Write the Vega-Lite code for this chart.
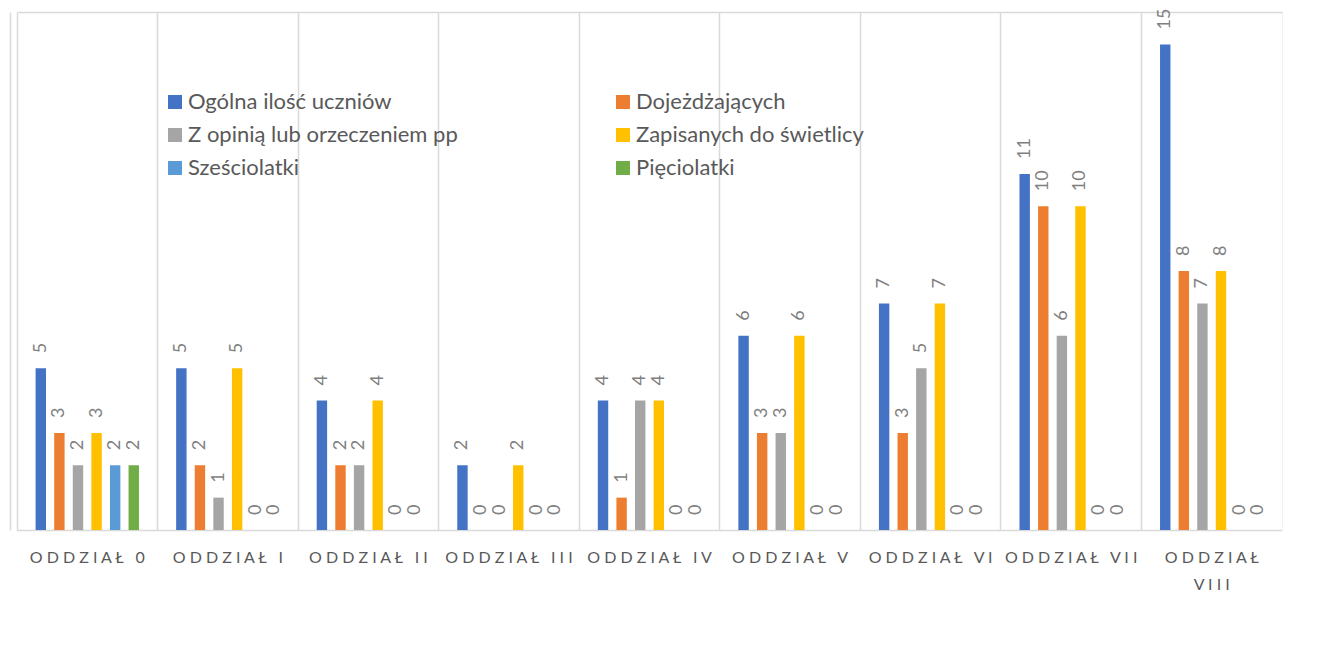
{
  "$schema": "https://vega.github.io/schema/vega-lite/v6.json",
  "width": 1265,
  "height": 518,
  "autosize": {"type": "none"},
  "padding": {"left": 17, "top": 12, "right": 43, "bottom": 127},
  "background": "white",
  "config": {"view": {"stroke": null}, "font": "Lato"},
  "data": {"values": [
    {"group": "ODDZIAŁ 0", "series": "Ogólna ilość uczniów", "value": 5},
    {"group": "ODDZIAŁ 0", "series": "Dojeżdżających", "value": 3},
    {"group": "ODDZIAŁ 0", "series": "Z opinią lub orzeczeniem pp", "value": 2},
    {"group": "ODDZIAŁ 0", "series": "Zapisanych do świetlicy", "value": 3},
    {"group": "ODDZIAŁ 0", "series": "Sześciolatki", "value": 2},
    {"group": "ODDZIAŁ 0", "series": "Pięciolatki", "value": 2},
    {"group": "ODDZIAŁ I", "series": "Ogólna ilość uczniów", "value": 5},
    {"group": "ODDZIAŁ I", "series": "Dojeżdżających", "value": 2},
    {"group": "ODDZIAŁ I", "series": "Z opinią lub orzeczeniem pp", "value": 1},
    {"group": "ODDZIAŁ I", "series": "Zapisanych do świetlicy", "value": 5},
    {"group": "ODDZIAŁ I", "series": "Sześciolatki", "value": 0},
    {"group": "ODDZIAŁ I", "series": "Pięciolatki", "value": 0},
    {"group": "ODDZIAŁ II", "series": "Ogólna ilość uczniów", "value": 4},
    {"group": "ODDZIAŁ II", "series": "Dojeżdżających", "value": 2},
    {"group": "ODDZIAŁ II", "series": "Z opinią lub orzeczeniem pp", "value": 2},
    {"group": "ODDZIAŁ II", "series": "Zapisanych do świetlicy", "value": 4},
    {"group": "ODDZIAŁ II", "series": "Sześciolatki", "value": 0},
    {"group": "ODDZIAŁ II", "series": "Pięciolatki", "value": 0},
    {"group": "ODDZIAŁ III", "series": "Ogólna ilość uczniów", "value": 2},
    {"group": "ODDZIAŁ III", "series": "Dojeżdżających", "value": 0},
    {"group": "ODDZIAŁ III", "series": "Z opinią lub orzeczeniem pp", "value": 0},
    {"group": "ODDZIAŁ III", "series": "Zapisanych do świetlicy", "value": 2},
    {"group": "ODDZIAŁ III", "series": "Sześciolatki", "value": 0},
    {"group": "ODDZIAŁ III", "series": "Pięciolatki", "value": 0},
    {"group": "ODDZIAŁ IV", "series": "Ogólna ilość uczniów", "value": 4},
    {"group": "ODDZIAŁ IV", "series": "Dojeżdżających", "value": 1},
    {"group": "ODDZIAŁ IV", "series": "Z opinią lub orzeczeniem pp", "value": 4},
    {"group": "ODDZIAŁ IV", "series": "Zapisanych do świetlicy", "value": 4},
    {"group": "ODDZIAŁ IV", "series": "Sześciolatki", "value": 0},
    {"group": "ODDZIAŁ IV", "series": "Pięciolatki", "value": 0},
    {"group": "ODDZIAŁ V", "series": "Ogólna ilość uczniów", "value": 6},
    {"group": "ODDZIAŁ V", "series": "Dojeżdżających", "value": 3},
    {"group": "ODDZIAŁ V", "series": "Z opinią lub orzeczeniem pp", "value": 3},
    {"group": "ODDZIAŁ V", "series": "Zapisanych do świetlicy", "value": 6},
    {"group": "ODDZIAŁ V", "series": "Sześciolatki", "value": 0},
    {"group": "ODDZIAŁ V", "series": "Pięciolatki", "value": 0},
    {"group": "ODDZIAŁ VI", "series": "Ogólna ilość uczniów", "value": 7},
    {"group": "ODDZIAŁ VI", "series": "Dojeżdżających", "value": 3},
    {"group": "ODDZIAŁ VI", "series": "Z opinią lub orzeczeniem pp", "value": 5},
    {"group": "ODDZIAŁ VI", "series": "Zapisanych do świetlicy", "value": 7},
    {"group": "ODDZIAŁ VI", "series": "Sześciolatki", "value": 0},
    {"group": "ODDZIAŁ VI", "series": "Pięciolatki", "value": 0},
    {"group": "ODDZIAŁ VII", "series": "Ogólna ilość uczniów", "value": 11},
    {"group": "ODDZIAŁ VII", "series": "Dojeżdżających", "value": 10},
    {"group": "ODDZIAŁ VII", "series": "Z opinią lub orzeczeniem pp", "value": 6},
    {"group": "ODDZIAŁ VII", "series": "Zapisanych do świetlicy", "value": 10},
    {"group": "ODDZIAŁ VII", "series": "Sześciolatki", "value": 0},
    {"group": "ODDZIAŁ VII", "series": "Pięciolatki", "value": 0},
    {"group": "ODDZIAŁ VIII", "series": "Ogólna ilość uczniów", "value": 15},
    {"group": "ODDZIAŁ VIII", "series": "Dojeżdżających", "value": 8},
    {"group": "ODDZIAŁ VIII", "series": "Z opinią lub orzeczeniem pp", "value": 7},
    {"group": "ODDZIAŁ VIII", "series": "Zapisanych do świetlicy", "value": 8},
    {"group": "ODDZIAŁ VIII", "series": "Sześciolatki", "value": 0},
    {"group": "ODDZIAŁ VIII", "series": "Pięciolatki", "value": 0}
  ]},
  "encoding": {
    "x": {
      "field": "group", "type": "nominal",
      "sort": ["ODDZIAŁ 0", "ODDZIAŁ I", "ODDZIAŁ II", "ODDZIAŁ III", "ODDZIAŁ IV", "ODDZIAŁ V", "ODDZIAŁ VI", "ODDZIAŁ VII", "ODDZIAŁ VIII"],
      "scale": {"paddingInner": 0, "paddingOuter": 0},
      "axis": {
        "title": null, "grid": false, "ticks": false,
        "domain": true, "domainColor": "#d9d9d9", "domainWidth": 1.5,
        "labelAngle": 0, "labelFontSize": 16, "labelColor": "#595959", "labelFont": "Lato",
        "labelPadding": 19, "labelOverlap": false, "labelBound": false, "labelLineHeight": 27,
        "labelExpr": "datum.value == 'ODDZIAŁ VIII' ? [replace('ODDZIAŁ', regexp('(.)(?=.)', 'g'), '$1\u00a0'), replace('VIII', regexp('(.)(?=.)', 'g'), '$1\u00a0')] : replace(datum.value, regexp('(.)(?=.)', 'g'), '$1\u00a0')"
      }
    },
    "xOffset": {
      "field": "series", "type": "nominal",
      "sort": ["Ogólna ilość uczniów", "Dojeżdżających", "Z opinią lub orzeczeniem pp", "Zapisanych do świetlicy", "Sześciolatki", "Pięciolatki"],
      "scale": {"paddingInner": 0.44, "paddingOuter": 1.12}
    },
    "y": {
      "field": "value", "type": "quantitative",
      "scale": {"domain": [0, 16], "nice": false},
      "axis": {"title": null, "labels": false, "ticks": false, "grid": false, "domain": true, "domainColor": "#d9d9d9", "domainWidth": 1.5, "offset": 7}
    }
  },
  "layer": [
    {
      "mark": {"type": "bar"},
      "encoding": {
        "color": {
          "field": "series", "type": "nominal",
          "scale": {
            "domain": ["Ogólna ilość uczniów", "Z opinią lub orzeczeniem pp", "Sześciolatki", "Dojeżdżających", "Zapisanych do świetlicy", "Pięciolatki"],
            "range": ["#4472C4", "#A5A5A5", "#5B9BD5", "#ED7D31", "#FFC000", "#70AD47"]
          },
          "legend": {
            "title": null, "orient": "none", "legendX": 147, "legendY": 79,
            "columns": 2, "columnPadding": 154, "rowPadding": 11,
            "symbolType": "square", "symbolSize": 196, "symbolStrokeWidth": 0, "symbolOpacity": 1,
            "labelFontSize": 22, "labelColor": "#595959", "labelFont": "Lato", "labelOffset": 2, "labelLimit": 500
          }
        }
      }
    },
    {
      "mark": {"type": "text", "angle": 270, "align": "left", "baseline": "middle", "dx": 15, "fontSize": 18, "color": "#7f7f7f", "font": "Lato"},
      "encoding": {
        "text": {"field": "value", "type": "quantitative"},
        "x": {
          "field": "group", "type": "nominal",
          "sort": ["ODDZIAŁ 0", "ODDZIAŁ I", "ODDZIAŁ II", "ODDZIAŁ III", "ODDZIAŁ IV", "ODDZIAŁ V", "ODDZIAŁ VI", "ODDZIAŁ VII", "ODDZIAŁ VIII"],
          "axis": {"orient": "top", "title": null, "labels": false, "ticks": false, "grid": true, "bandPosition": 0, "gridColor": "#d9d9d9", "gridWidth": 1.5, "domain": true, "domainColor": "#d9d9d9", "domainWidth": 1.5}
        },
        "y": {
          "field": "value", "type": "quantitative",
          "axis": {"orient": "right", "title": null, "labels": false, "ticks": false, "grid": false, "domain": true, "domainColor": "#f2f2f2", "domainWidth": 1}
        }
      }
    }
  ],
  "resolve": {"axis": {"x": "independent", "y": "independent"}}
}
